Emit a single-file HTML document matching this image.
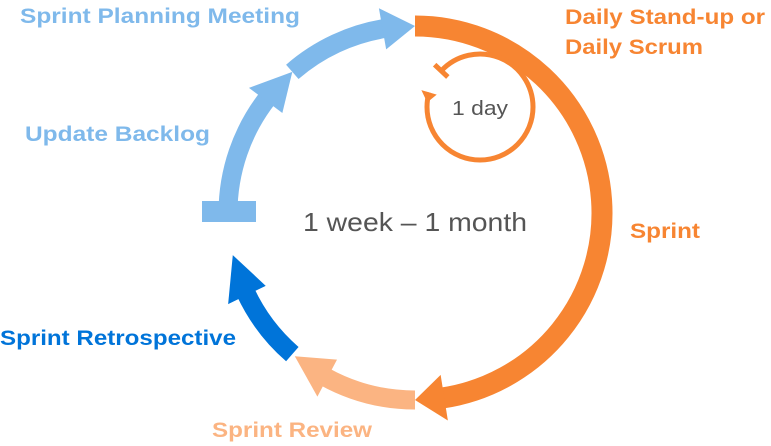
<!DOCTYPE html>
<html><head><meta charset="utf-8"><style>
html,body{margin:0;padding:0;background:#fff;}
svg{display:block;font-family:"Liberation Sans",sans-serif;}
.b{font-weight:bold;font-size:21px;}
</style></head><body>
<svg id="s" width="771" height="446" viewBox="0 0 771 446">
<text class="b" x="20" y="23" fill="#7fb9eb" textLength="280" lengthAdjust="spacingAndGlyphs">Sprint Planning Meeting</text>
<text class="b" x="25" y="141" fill="#7fb9eb" textLength="185" lengthAdjust="spacingAndGlyphs">Update Backlog</text>
<text class="b" x="565" y="24" fill="#f78532" textLength="200" lengthAdjust="spacingAndGlyphs">Daily Stand-up or</text>
<text class="b" x="565" y="54" fill="#f78532" textLength="138" lengthAdjust="spacingAndGlyphs">Daily Scrum</text>
<text class="b" x="630" y="238" fill="#f78532" textLength="70" lengthAdjust="spacingAndGlyphs">Sprint</text>
<text class="b" x="0" y="345" fill="#0074d9" textLength="236" lengthAdjust="spacingAndGlyphs">Sprint Retrospective</text>
<text class="b" x="212" y="437" fill="#fbb482" textLength="160" lengthAdjust="spacingAndGlyphs">Sprint Review</text>
<text x="303" y="231" font-size="26" fill="#555" textLength="224" lengthAdjust="spacingAndGlyphs">1 week – 1 month</text>
<text x="452" y="115" font-size="20" fill="#555" textLength="56" lengthAdjust="spacingAndGlyphs">1 day</text>
</svg>
<script>
const segNames=['sprint-arrow','review-arrow','retrospective-arrow','backlog-arrow','planning-arrow'];
const segStart=[-90,90,131,180,229];
const segBase=[81,118,154,217,260];
const segTip=[90,130,167,229,270];
const segColor=['#f78532','#fbb482','#0074d9','#7fb9eb','#7fb9eb'];
const segWidth=[21,19,19,19,19];
const CX=415,CY=213,R=187;
const NS='http://www.w3.org/2000/svg';
const svg=document.getElementById('s');
function pt(a,r,cx,cy){const t=a*Math.PI/180;return [cx+r*Math.cos(t),cy+r*Math.sin(t)];}
function arcPath(a0,a1,r,cx,cy){const p=pt(a0,r,cx,cy),q=pt(a1,r,cx,cy);const large=(a1-a0)>180?1:0;return `M${p[0]},${p[1]} A${r},${r} 0 ${large} 1 ${q[0]},${q[1]}`;}
function head(aBase,aTip,r,hw,cx,cy){const b1=pt(aBase,r-hw,cx,cy),b2=pt(aBase,r+hw,cx,cy),t=pt(aTip,r,cx,cy);return `${b1[0]},${b1[1]} ${t[0]},${t[1]} ${b2[0]},${b2[1]}`;}
const g=document.createElementNS(NS,'g');svg.insertBefore(g,svg.firstChild);
for(let i=0;i<segNames.length;i++){
  const p=document.createElementNS(NS,'path');
  p.setAttribute('d',arcPath(segStart[i],segBase[i]+1,R,CX,CY));
  p.setAttribute('fill','none');p.setAttribute('stroke',segColor[i]);p.setAttribute('stroke-width',segWidth[i]);
  
  
  g.appendChild(p);
  const h=document.createElementNS(NS,'polygon');
  h.setAttribute('points',head(segBase[i],segTip[i],R,segWidth[i]*1.1,CX,CY));
  h.setAttribute('fill',segColor[i]);
  
  
  g.appendChild(h);
}
const tb=document.createElementNS(NS,'rect');
tb.setAttribute('x',202);tb.setAttribute('y',201);tb.setAttribute('width',54);tb.setAttribute('height',21);tb.setAttribute('fill','#7fb9eb');


g.appendChild(tb);
const LX=480,LY=107,LR=53;
const lp=document.createElementNS(NS,'path');
lp.setAttribute('d',arcPath(223,360,LR,LX,LY)+' '+arcPath(0,180,LR,LX,LY).replace('M','L')+' '+arcPath(180,196,LR,LX,LY).replace('M','L'));
lp.setAttribute('fill','none');lp.setAttribute('stroke','#f78532');lp.setAttribute('stroke-width',5);


g.appendChild(lp);
const lh=document.createElementNS(NS,'polygon');
lh.setAttribute('points',head(196,185,LR,8,LX,LY));lh.setAttribute('fill','#f78532');


g.appendChild(lh);
const a=pt(223,LR-9,LX,LY),b=pt(223,LR+9,LX,LY);
const tl=document.createElementNS(NS,'line');
tl.setAttribute('x1',a[0]);tl.setAttribute('y1',a[1]);tl.setAttribute('x2',b[0]);tl.setAttribute('y2',b[1]);
tl.setAttribute('stroke','#f78532');tl.setAttribute('stroke-width',5);


g.appendChild(tl);
</script>
</body></html>
